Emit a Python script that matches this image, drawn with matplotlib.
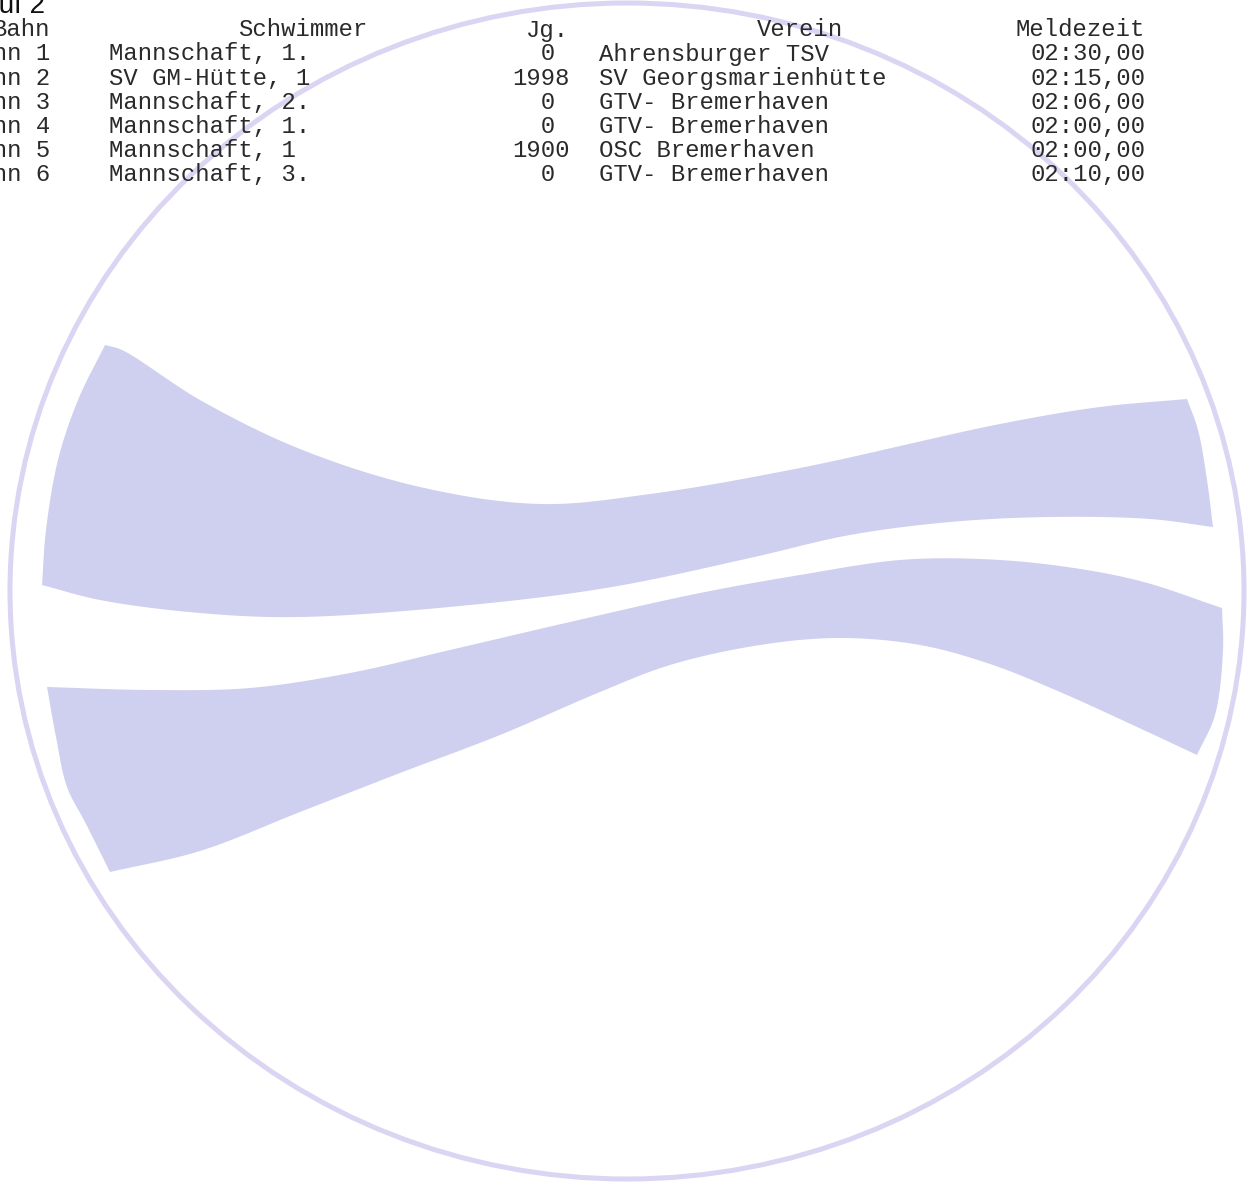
import numpy as np
import matplotlib
matplotlib.use("Agg")
import matplotlib.pyplot as plt
from matplotlib.patches import Ellipse, Polygon

# table data
title = "Lauf 2"
headers = ["Bahn", "Schwimmer", "Jg.", "Verein", "Meldezeit"]
lanes = [1, 2, 3, 4, 5, 6]
swimmers = ["Mannschaft, 1.", "SV GM-Hütte, 1", "Mannschaft, 2.",
            "Mannschaft, 1.", "Mannschaft, 1", "Mannschaft, 3."]
years = [0, 1998, 0, 0, 1900, 0]
clubs = ["Ahrensburger TSV", "SV Georgsmarienhütte", "GTV- Bremerhaven",
         "GTV- Bremerhaven", "OSC Bremerhaven", "GTV- Bremerhaven"]
times = ["02:30,00", "02:15,00", "02:06,00", "02:00,00", "02:00,00", "02:10,00"]

W, H = 1255, 1184
fig = plt.figure(figsize=(W / 100, H / 100), dpi=100)
ax = fig.add_axes([0, 0, 1, 1])
ax.set_xlim(0, W)
ax.set_ylim(H, 0)
ax.axis("off")


def smooth(pts, n=16):
    # centripetal catmull-rom through outline points (logo artwork only)
    p = np.array(pts, dtype=float)
    p = np.vstack([2 * p[0] - p[1], p, 2 * p[-1] - p[-2]])
    out = []
    for i in range(1, len(p) - 2):
        p0, p1, p2, p3 = p[i - 1], p[i], p[i + 1], p[i + 2]
        t0 = 0.0
        t1 = t0 + np.linalg.norm(p1 - p0) ** 0.5
        t2 = t1 + np.linalg.norm(p2 - p1) ** 0.5
        t3 = t2 + np.linalg.norm(p3 - p2) ** 0.5
        for t in np.linspace(t1, t2, n, endpoint=False):
            a1 = (t1 - t) / (t1 - t0) * p0 + (t - t0) / (t1 - t0) * p1
            a2 = (t2 - t) / (t2 - t1) * p1 + (t - t1) / (t2 - t1) * p2
            a3 = (t3 - t) / (t3 - t2) * p2 + (t - t2) / (t3 - t2) * p3
            b1 = (t2 - t) / (t2 - t0) * a1 + (t - t0) / (t2 - t0) * a2
            b2 = (t3 - t) / (t3 - t1) * a2 + (t - t1) / (t3 - t1) * a3
            out.append((t2 - t) / (t2 - t1) * b1 + (t - t1) / (t2 - t1) * b2)
    out.append(p[-2])
    return np.array(out)


# watermark logo outline (pixel coords)
upper_edges = [
    [(105, 345), (122, 350), (200, 400), (300, 449), (420, 487), (540, 504), (650, 494),
     (800, 468), (1000, 424), (1100, 407), (1187, 399)],
    [(1187, 399), (1198, 430), (1207, 480), (1213, 527)],
    [(1213, 527), (1150, 519), (1050, 517), (950, 522), (850, 535), (750, 558), (612, 587),
     (480, 604), (300, 617), (200, 613), (100, 600), (42, 585)],
    [(42, 585), (46, 530), (58, 460), (78, 400), (105, 345)],
]
lower_edges = [
    [(47, 687), (150, 690), (250, 688), (350, 673), (450, 650), (570, 622), (700, 593),
     (800, 575), (900, 560), (980, 559), (1060, 566), (1140, 581), (1222, 608)],
    [(1222, 608), (1223, 650), (1215, 715), (1197, 755)],
    [(1197, 755), (1150, 733), (1060, 692), (990, 664), (920, 645), (840, 638), (760, 645),
     (670, 665), (600, 692), (500, 735), (400, 773), (300, 812), (200, 851), (110, 872)],
    [(110, 872), (85, 822), (67, 787), (56, 737), (47, 687)],
]

ax.add_patch(Ellipse((627, 591), 1234, 1176, fill=False, ec="#DBD4F2", lw=3.6))
for edges in (upper_edges, lower_edges):
    outline = np.vstack([smooth(e) for e in edges])
    ax.add_patch(Polygon(outline, closed=True, fc="#CFCFEF", ec="none"))

# texts
mono = dict(family="Liberation Mono", fontsize=17.2, color="#2a2a2a", va="baseline")
ax.text(-32, 13, title, family="Liberation Sans", fontsize=20, color="#111111", va="baseline")

y0 = 36.5
ax.text(50, y0, headers[0], ha="right", **mono)
ax.text(303, y0, headers[1], ha="center", **mono)
ax.text(548, y0, headers[2], ha="center", **mono)
ax.text(800, y0, headers[3], ha="center", **mono)
ax.text(1145, y0, headers[4], ha="right", **mono)

for i in range(len(lanes)):
    y = 60.5 + 24.1 * i
    ax.text(50, y, f"Bahn {lanes[i]}", ha="right", **mono)
    ax.text(109, y, swimmers[i], ha="left", **mono)
    ax.text(512, y, f"{years[i]:>3}", ha="left", **mono)
    ax.text(599, y, clubs[i], ha="left", **mono)
    ax.text(1145, y, times[i], ha="right", **mono)

fig.savefig("out.png", dpi=100, facecolor="white")
